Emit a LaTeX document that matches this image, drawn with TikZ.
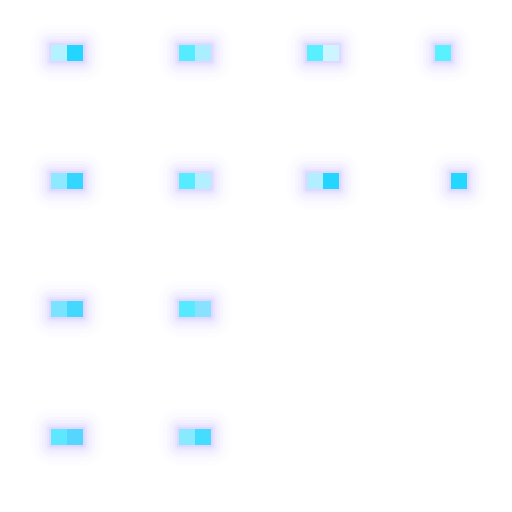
\documentclass[tikz,border=0pt]{standalone}
\usetikzlibrary{positioning}
\definecolor{glowc}{HTML}{7A5CFF}
\definecolor{aA}{HTML}{B4F2FF}\definecolor{aB}{HTML}{22D6FF}
\definecolor{bA}{HTML}{55ECFF}\definecolor{bB}{HTML}{AAEEFF}
\definecolor{cA}{HTML}{58F0FF}\definecolor{cB}{HTML}{CDF5FF}
\definecolor{dA}{HTML}{58F2FF}
\definecolor{eA}{HTML}{8EE8FF}\definecolor{eB}{HTML}{33D6FF}
\definecolor{fA}{HTML}{55ECFF}\definecolor{fB}{HTML}{B2F0FF}
\definecolor{gA}{HTML}{B2EEFF}\definecolor{gB}{HTML}{22D6FF}
\definecolor{hB}{HTML}{22D8FF}
\definecolor{iA}{HTML}{7AE4FF}\definecolor{iB}{HTML}{44D8FF}
\definecolor{jA}{HTML}{55EAFF}\definecolor{jB}{HTML}{88E2FF}
\definecolor{kA}{HTML}{5EE8FF}\definecolor{kB}{HTML}{55D6FF}
\definecolor{lA}{HTML}{88EAFF}\definecolor{lB}{HTML}{44DCFF}
\newcommand\glowrect[4]{%
  \foreach \r/\o in {20/0.01,16/0.015,12/0.02,9/0.03,6/0.04,4/0.05,2/0.07}{%
    \fill[glowc,opacity=\o,rounded corners=\r pt] (#1-\r,#2-\r) rectangle (#3+\r,#4+\r);}}
\tikzset{sq/.style={minimum size=16pt,inner sep=0pt,outer sep=0pt,draw=none,rectangle}}
\begin{document}
\begin{tikzpicture}[x=1pt,y=-1pt]
\useasboundingbox (0,0) rectangle (512,512);
\fill[white] (0,0) rectangle (512,512);
% glows
\glowrect{51}{45}{83}{61}
\glowrect{179}{45}{211}{61}
\glowrect{307}{45}{339}{61}
\glowrect{435}{45}{451}{61}
\glowrect{51}{173}{83}{189}
\glowrect{179}{173}{211}{189}
\glowrect{307}{173}{339}{189}
\glowrect{451}{173}{467}{189}
\glowrect{51}{301}{83}{317}
\glowrect{179}{301}{211}{317}
\glowrect{51}{429}{83}{445}
\glowrect{179}{429}{211}{445}
% row 1
\node[sq,fill=aA] (r1c1a) at (59,53) {};
\node[sq,fill=aB] (r1c1b) at (75,53) {};
\node[sq,fill=bA] (r1c2a) at (187,53) {};
\node[sq,fill=bB] (r1c2b) at (203,53) {};
\node[sq,fill=cA] (r1c3a) at (315,53) {};
\node[sq,fill=cB] (r1c3b) at (331,53) {};
\node[sq,fill=dA] (r1c4a) at (443,53) {};
% row 2
\node[sq,fill=eA] (r2c1a) at (59,181) {};
\node[sq,fill=eB] (r2c1b) at (75,181) {};
\node[sq,fill=fA] (r2c2a) at (187,181) {};
\node[sq,fill=fB] (r2c2b) at (203,181) {};
\node[sq,fill=gA] (r2c3a) at (315,181) {};
\node[sq,fill=gB] (r2c3b) at (331,181) {};
\node[sq,fill=hB] (r2c4b) at (459,181) {};
% row 3
\node[sq,fill=iA] (r3c1a) at (59,309) {};
\node[sq,fill=iB] (r3c1b) at (75,309) {};
\node[sq,fill=jA] (r3c2a) at (187,309) {};
\node[sq,fill=jB] (r3c2b) at (203,309) {};
% row 4
\node[sq,fill=kA] (r4c1a) at (59,437) {};
\node[sq,fill=kB] (r4c1b) at (75,437) {};
\node[sq,fill=lA] (r4c2a) at (187,437) {};
\node[sq,fill=lB] (r4c2b) at (203,437) {};
\end{tikzpicture}
\end{document}
